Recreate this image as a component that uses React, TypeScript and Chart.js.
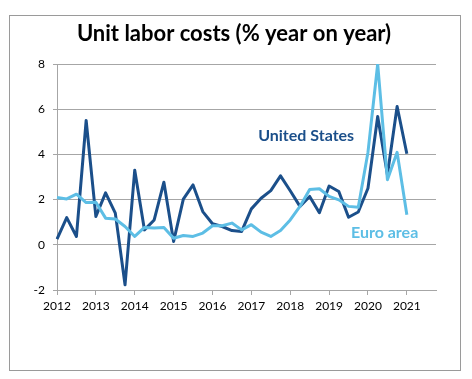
import React, { useEffect, useRef } from "react";
import { Chart, registerables } from "chart.js";

Chart.register(...registerables);

const TITLE = "Unit labor costs (% year on year)";

const quarters: string[] = [];
for (let y = 2012; y <= 2021; y++) {
  for (let q = 1; q <= 4; q++) quarters.push(`${y} Q${q}`);
}

const usValues = [
  0.25, 1.2, 0.37, 5.5,
  1.25, 2.3, 1.4, -1.77,
  3.3, 0.66, 1.1, 2.77,
  0.15, 2.02, 2.65, 1.47,
  0.93, 0.81, 0.63, 0.59,
  1.59, 2.06, 2.4, 3.05,
  2.39, 1.7, 2.14, 1.42,
  2.6, 2.36, 1.22, 1.45,
  2.5, 5.68, 3.1, 6.12,
  4.03,
];

const euroValues = [
  2.09, 2.03, 2.24, 1.87,
  1.88, 1.18, 1.14, 0.81,
  0.37, 0.77, 0.74, 0.77,
  0.29, 0.41, 0.37, 0.52,
  0.84, 0.84, 0.96, 0.66,
  0.89, 0.56, 0.37, 0.63,
  1.1, 1.7, 2.45, 2.48,
  2.14, 1.99, 1.7, 1.66,
  4.1, 8.0, 2.88, 4.09,
  1.33,
];

const yTicks = [-2, 0, 2, 4, 6, 8];

const DARK = "#1B4F8A";
const LIGHT = "#5DBEE5";

const seriesLabels = {
  us: { text: "United States", x: 20.7, y: 4.82, color: DARK },
  euro: { text: "Euro area", x: 30.25, y: 0.53, color: LIGHT },
};

export default function App() {
  const ref = useRef<HTMLCanvasElement>(null);

  useEffect(() => {
    if (!ref.current) return;
    const labelPlugin = {
      id: "seriesLabels",
      afterDatasetsDraw(chart: any) {
        const ctx = chart.ctx;
        const xs = chart.scales.x;
        const ys = chart.scales.y;
        ctx.save();
        ctx.font = "bold 16px Lato";
        ctx.textAlign = "left";
        ctx.textBaseline = "middle";
        for (const l of Object.values(seriesLabels)) {
          ctx.fillStyle = l.color;
          ctx.fillText(l.text, xs.getPixelForValue(l.x), ys.getPixelForValue(l.y));
        }
        ctx.font = "bold 22px Lato";
        ctx.textAlign = "center";
        ctx.fillStyle = "#000";
        ctx.fillText(TITLE, 234, 34);
        ctx.restore();
      },
    };
    const chart = new Chart(ref.current, {
      type: "line",
      data: {
        labels: quarters,
        datasets: [
          {
            label: "Euro area",
            data: euroValues,
            borderColor: LIGHT,
            borderWidth: 3,
            pointRadius: 0,
            tension: 0,
            borderJoinStyle: "round",
          },
          {
            label: "United States",
            data: usValues,
            borderColor: DARK,
            borderWidth: 3,
            pointRadius: 0,
            tension: 0,
            borderJoinStyle: "round",
          },
        ],
      },
      options: {
        responsive: false,
        animation: false,
        layout: { padding: { left: 0, right: 36, top: 64, bottom: 0 } },
        plugins: {
          legend: { display: false },
          tooltip: { enabled: false },
          title: { display: false },
        },
        scales: {
          x: {
            type: "category",
            offset: false,
            afterFit: (s: any) => {
              s.height = 89;
            },
            afterBuildTicks: (s: any) => {
              s.ticks = s.ticks.filter((t: any) => t.value % 4 === 0);
            },
            ticks: {
              autoSkip: false,
              maxRotation: 0,
              color: "#000",
              font: { family: "Lato", size: 12 },
              padding: 4,
              callback: (v: any) => quarters[v].slice(0, 4),
            },
            grid: {
              drawOnChartArea: false,
              drawTicks: true,
              tickLength: 5,
              color: "#A6A6A6",
            },
            border: { color: "#A6A6A6" },
          },
          y: {
            min: -2,
            max: 8,
            afterFit: (s: any) => {
              s.width = 57;
            },
            afterBuildTicks: (s: any) => {
              s.ticks = yTicks.map((v) => ({ value: v }));
            },
            ticks: {
              color: "#000",
              font: { family: "Lato", size: 12 },
              padding: 8,
            },
            grid: {
              color: "#A6A6A6",
              tickLength: 4,
              lineWidth: 1,
            },
            border: { color: "#A6A6A6" },
          },
        },
      },
      plugins: [labelPlugin],
    });
    return () => chart.destroy();
  }, []);

  return (
    <div
      style={{
        position: "fixed",
        left: 0,
        top: 0,
        width: 472,
        height: 379,
        background: "#fff",
      }}
    >
      <canvas ref={ref} width={472} height={379} style={{ position: "absolute", left: 0, top: 0 }} />
      <div
        style={{
          position: "absolute",
          left: 9,
          top: 15,
          width: 450,
          height: 354,
          border: "1px solid #9A9A9A",
          pointerEvents: "none",
        }}
      />
    </div>
  );
}
